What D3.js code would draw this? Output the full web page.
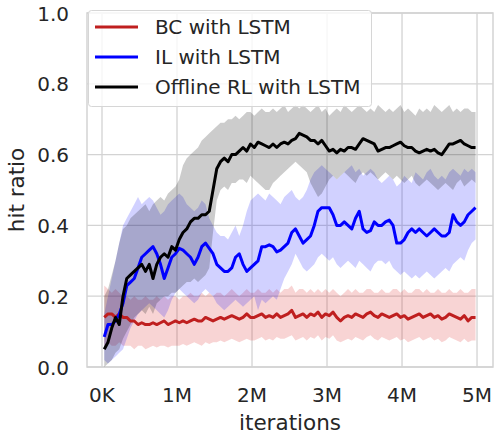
<!DOCTYPE html>
<html>
<head>
<meta charset="utf-8">
<script src="https://d3js.org/d3.v7.min.js"></script>
<style>
body { margin:0; background:#fff; }
svg text { font-family:"DejaVu Sans", sans-serif; fill:#262626; }
</style>
</head>
<body>
<div id="chart"></div>
<script>
// iterations (in millions): first sample and spacing
var xStart = 0.03, xStep = 0.05;
var xTicks = [0, 1, 2, 3, 4, 5];
var xTickLabels = ["0K", "1M", "2M", "3M", "4M", "5M"];
var yTicks = [0.0, 0.2, 0.4, 0.6, 0.8, 1.0];

var seriesNames = ["BC with LSTM", "IL with LSTM", "Offline RL with LSTM"];

var bcMean = [0.14,0.15,0.15,0.14,0.15,0.14,0.14,0.13,0.13,0.12,
  0.125,0.12,0.12,0.125,0.12,0.125,0.13,0.12,0.125,0.13,
  0.125,0.13,0.125,0.13,0.135,0.13,0.13,0.14,0.135,0.13,
  0.135,0.14,0.135,0.14,0.145,0.14,0.135,0.14,0.15,0.14,
  0.14,0.145,0.15,0.14,0.145,0.14,0.15,0.14,0.145,0.15,
  0.16,0.14,0.145,0.15,0.14,0.15,0.145,0.155,0.14,0.15,
  0.145,0.155,0.14,0.13,0.14,0.145,0.14,0.15,0.145,0.14,
  0.15,0.155,0.145,0.14,0.15,0.145,0.14,0.145,0.15,0.14,
  0.145,0.135,0.14,0.145,0.15,0.14,0.145,0.15,0.14,0.145,
  0.135,0.14,0.15,0.145,0.14,0.135,0.145,0.13,0.14,0.14];
var bcUpper = [0.23,0.22,0.21,0.22,0.21,0.2,0.2,0.19,0.2,0.19,
  0.19,0.2,0.19,0.19,0.2,0.19,0.2,0.19,0.2,0.2,
  0.19,0.2,0.2,0.21,0.2,0.2,0.21,0.2,0.21,0.2,
  0.21,0.21,0.2,0.21,0.22,0.21,0.2,0.21,0.22,0.21,
  0.21,0.22,0.21,0.21,0.22,0.21,0.22,0.21,0.22,0.22,
  0.23,0.21,0.22,0.22,0.21,0.22,0.21,0.22,0.21,0.22,
  0.21,0.22,0.21,0.2,0.21,0.22,0.21,0.22,0.21,0.21,
  0.22,0.22,0.21,0.21,0.22,0.21,0.21,0.22,0.22,0.21,
  0.22,0.21,0.21,0.22,0.22,0.21,0.22,0.21,0.21,0.22,
  0.21,0.21,0.22,0.21,0.21,0.22,0.21,0.21,0.22,0.22];
var bcLower = [0.06,0.07,0.06,0.06,0.07,0.06,0.06,0.06,0.05,0.06,
  0.06,0.05,0.055,0.06,0.055,0.06,0.06,0.055,0.06,0.06,
  0.06,0.065,0.06,0.065,0.07,0.065,0.06,0.07,0.065,0.07,
  0.07,0.075,0.07,0.075,0.08,0.075,0.07,0.075,0.08,0.075,
  0.075,0.08,0.085,0.075,0.08,0.075,0.085,0.08,0.08,0.085,
  0.09,0.075,0.08,0.085,0.075,0.085,0.08,0.09,0.075,0.085,
  0.08,0.09,0.075,0.07,0.075,0.08,0.075,0.085,0.08,0.075,
  0.085,0.09,0.08,0.075,0.085,0.08,0.075,0.08,0.085,0.075,
  0.08,0.07,0.075,0.08,0.085,0.075,0.08,0.085,0.075,0.08,
  0.07,0.075,0.085,0.08,0.075,0.07,0.08,0.07,0.075,0.075];

var ilMean = [0.085,0.12,0.12,0.13,0.15,0.18,0.23,0.24,0.25,0.28,
  0.31,0.32,0.33,0.34,0.32,0.29,0.25,0.28,0.31,0.32,
  0.335,0.33,0.32,0.31,0.29,0.31,0.34,0.35,0.335,0.32,
  0.29,0.28,0.27,0.27,0.28,0.31,0.32,0.29,0.27,0.28,
  0.29,0.30,0.34,0.34,0.345,0.34,0.325,0.33,0.34,0.35,
  0.38,0.39,0.37,0.35,0.36,0.37,0.40,0.44,0.45,0.45,
  0.45,0.43,0.40,0.40,0.41,0.40,0.39,0.42,0.44,0.39,
  0.38,0.385,0.41,0.40,0.40,0.41,0.415,0.40,0.35,0.35,
  0.36,0.38,0.39,0.38,0.39,0.38,0.37,0.38,0.39,0.38,
  0.37,0.37,0.38,0.43,0.41,0.40,0.41,0.43,0.44,0.45];
var ilUpper = [0.15,0.20,0.25,0.30,0.35,0.40,0.42,0.44,0.46,0.48,
  0.46,0.47,0.48,0.47,0.45,0.43,0.44,0.46,0.47,0.48,
  0.49,0.48,0.46,0.45,0.44,0.45,0.47,0.46,0.42,0.40,
  0.38,0.37,0.37,0.36,0.38,0.40,0.37,0.40,0.44,0.47,
  0.48,0.49,0.48,0.47,0.49,0.48,0.47,0.46,0.48,0.49,
  0.50,0.48,0.47,0.48,0.50,0.53,0.55,0.56,0.57,0.56,
  0.55,0.54,0.53,0.54,0.55,0.56,0.57,0.55,0.56,0.54,
  0.55,0.56,0.55,0.53,0.52,0.53,0.54,0.53,0.51,0.52,
  0.54,0.53,0.52,0.55,0.54,0.53,0.55,0.56,0.54,0.53,
  0.54,0.53,0.55,0.56,0.55,0.54,0.56,0.55,0.56,0.55];
var ilLower = [0.02,0.01,0.02,0.03,0.04,0.05,0.08,0.11,0.13,0.15,
  0.16,0.17,0.18,0.17,0.16,0.15,0.14,0.16,0.19,0.21,
  0.22,0.21,0.20,0.19,0.18,0.19,0.21,0.22,0.21,0.20,
  0.18,0.17,0.16,0.17,0.18,0.19,0.18,0.17,0.18,0.19,
  0.20,0.16,0.19,0.18,0.19,0.20,0.19,0.22,0.25,0.27,
  0.29,0.32,0.30,0.28,0.27,0.28,0.29,0.31,0.32,0.31,
  0.30,0.31,0.29,0.28,0.29,0.30,0.29,0.28,0.30,0.29,
  0.28,0.27,0.29,0.30,0.30,0.29,0.30,0.28,0.27,0.26,
  0.27,0.26,0.25,0.26,0.25,0.26,0.27,0.26,0.25,0.26,
  0.27,0.28,0.27,0.29,0.30,0.31,0.30,0.33,0.35,0.36];

var rlMean = [0.05,0.07,0.11,0.14,0.12,0.20,0.25,0.26,0.27,0.28,
  0.29,0.27,0.29,0.25,0.29,0.31,0.32,0.31,0.34,0.33,
  0.36,0.38,0.39,0.41,0.42,0.42,0.43,0.43,0.44,0.50,
  0.56,0.58,0.59,0.58,0.60,0.60,0.61,0.62,0.61,0.63,
  0.62,0.635,0.63,0.625,0.62,0.63,0.62,0.63,0.635,0.63,
  0.64,0.645,0.66,0.655,0.65,0.64,0.64,0.63,0.64,0.625,
  0.61,0.615,0.605,0.615,0.61,0.62,0.62,0.615,0.63,0.645,
  0.64,0.635,0.63,0.61,0.615,0.62,0.62,0.625,0.63,0.635,
  0.625,0.62,0.62,0.61,0.605,0.61,0.615,0.61,0.615,0.605,
  0.60,0.615,0.63,0.63,0.635,0.64,0.63,0.625,0.62,0.62];
var rlUpper = [0.20,0.22,0.26,0.30,0.35,0.39,0.40,0.42,0.43,0.44,
  0.45,0.46,0.44,0.46,0.47,0.48,0.47,0.49,0.50,0.51,
  0.53,0.57,0.59,0.60,0.61,0.62,0.64,0.65,0.66,0.67,
  0.68,0.69,0.69,0.70,0.70,0.71,0.70,0.71,0.72,0.72,
  0.71,0.72,0.73,0.72,0.72,0.73,0.72,0.73,0.74,0.72,
  0.73,0.74,0.73,0.74,0.73,0.72,0.73,0.74,0.72,0.73,
  0.71,0.72,0.73,0.72,0.74,0.73,0.72,0.73,0.74,0.73,
  0.72,0.73,0.72,0.74,0.73,0.72,0.73,0.72,0.73,0.74,
  0.72,0.73,0.72,0.71,0.73,0.72,0.73,0.72,0.74,0.73,
  0.72,0.73,0.74,0.72,0.73,0.72,0.73,0.73,0.72,0.72];
var rlLower = [0.00,0.01,0.02,0.04,0.05,0.08,0.10,0.12,0.14,0.15,
  0.16,0.15,0.17,0.15,0.18,0.19,0.20,0.20,0.21,0.21,
  0.22,0.23,0.24,0.24,0.25,0.24,0.25,0.26,0.28,0.38,
  0.47,0.50,0.51,0.50,0.52,0.52,0.53,0.53,0.52,0.54,
  0.53,0.52,0.51,0.50,0.50,0.52,0.53,0.54,0.55,0.56,
  0.57,0.58,0.57,0.56,0.55,0.52,0.50,0.48,0.49,0.51,
  0.53,0.54,0.53,0.54,0.55,0.54,0.53,0.52,0.54,0.55,
  0.54,0.55,0.54,0.53,0.54,0.55,0.54,0.53,0.54,0.53,
  0.52,0.53,0.54,0.52,0.51,0.52,0.53,0.52,0.51,0.50,
  0.51,0.52,0.51,0.50,0.52,0.53,0.51,0.52,0.53,0.52];

var W = 495, H = 435;
var plot = {left: 87, right: 493, top: 13, bottom: 367};

var svg = d3.select("#chart").append("svg")
  .attr("width", W).attr("height", H);

var x = d3.scaleLinear().domain([-0.2, 5.213]).range([plot.left, plot.right]);
var y = d3.scaleLinear().domain([0, 1]).range([plot.bottom, plot.top]);

function rows(mean, lo, hi) {
  return mean.map(function(m, i) {
    return {x: xStart + i * xStep, m: m, lo: lo[i], hi: hi[i]};
  });
}

var series = [
  {name: seriesNames[0], color: "#bf1f1f", fill: "rgba(220,40,40,0.2)", data: rows(bcMean, bcLower, bcUpper)},
  {name: seriesNames[1], color: "#0000ff", fill: "rgba(0,0,255,0.18)", data: rows(ilMean, ilLower, ilUpper)},
  {name: seriesNames[2], color: "#000000", fill: "rgba(0,0,0,0.2)", data: rows(rlMean, rlLower, rlUpper)}
];

// grid
var grid = svg.append("g");
grid.selectAll(".gx").data(xTicks).enter().append("line")
  .attr("x1", function(d){ return x(d); }).attr("x2", function(d){ return x(d); })
  .attr("y1", plot.top).attr("y2", plot.bottom)
  .attr("stroke", "#d3d3d3").attr("stroke-width", 1.3);
grid.selectAll(".gy").data(yTicks).enter().append("line")
  .attr("y1", function(d){ return y(d); }).attr("y2", function(d){ return y(d); })
  .attr("x1", plot.left).attr("x2", plot.right)
  .attr("stroke", "#d3d3d3").attr("stroke-width", 1.3);

// frame
svg.append("rect")
  .attr("x", plot.left).attr("y", plot.top)
  .attr("width", plot.right - plot.left).attr("height", plot.bottom - plot.top)
  .attr("fill", "none").attr("stroke", "#d3d3d3").attr("stroke-width", 1.5);

var area = d3.area()
  .x(function(d){ return x(d.x); })
  .y0(function(d){ return y(d.lo); })
  .y1(function(d){ return y(d.hi); });
var line = d3.line()
  .x(function(d){ return x(d.x); })
  .y(function(d){ return y(d.m); });

series.forEach(function(s) {
  svg.append("path").datum(s.data).attr("d", area)
    .attr("fill", s.fill).attr("stroke", "none");
});
series.forEach(function(s) {
  svg.append("path").datum(s.data).attr("d", line)
    .attr("fill", "none").attr("stroke", s.color)
    .attr("stroke-width", 3).attr("stroke-linejoin", "round");
});

// tick labels
svg.selectAll(".xt").data(xTicks).enter().append("text")
  .attr("x", function(d){ return x(d); }).attr("y", 402)
  .attr("text-anchor", "middle").style("font-size", "20px")
  .text(function(d, i){ return xTickLabels[i]; });
svg.selectAll(".yt").data(yTicks).enter().append("text")
  .attr("x", 69).attr("y", function(d){ return y(d) + 7.5; })
  .attr("text-anchor", "end").style("font-size", "20px")
  .text(function(d){ return d.toFixed(1); });

svg.append("text").attr("x", (plot.left + plot.right) / 2).attr("y", 430)
  .attr("text-anchor", "middle").style("font-size", "21.5px").text("iterations");
svg.append("text")
  .attr("transform", "translate(23.5," + ((plot.top + plot.bottom) / 2) + ") rotate(-90)")
  .attr("text-anchor", "middle").style("font-size", "21.5px").text("hit ratio");

// legend
var lg = svg.append("g");
lg.append("rect").attr("x", 88.5).attr("y", 10.5).attr("width", 283).attr("height", 96)
  .attr("rx", 3).attr("fill", "rgba(255,255,255,0.8)").attr("stroke", "#d6d6d6");
series.forEach(function(s, i) {
  var yy = 27 + i * 30;
  lg.append("line").attr("x1", 95).attr("x2", 138).attr("y1", yy).attr("y2", yy)
    .attr("stroke", s.color).attr("stroke-width", 3);
  lg.append("text").attr("x", 155).attr("y", yy + 7.3).style("font-size", "20px").text(s.name);
});
</script>
</body>
</html>
